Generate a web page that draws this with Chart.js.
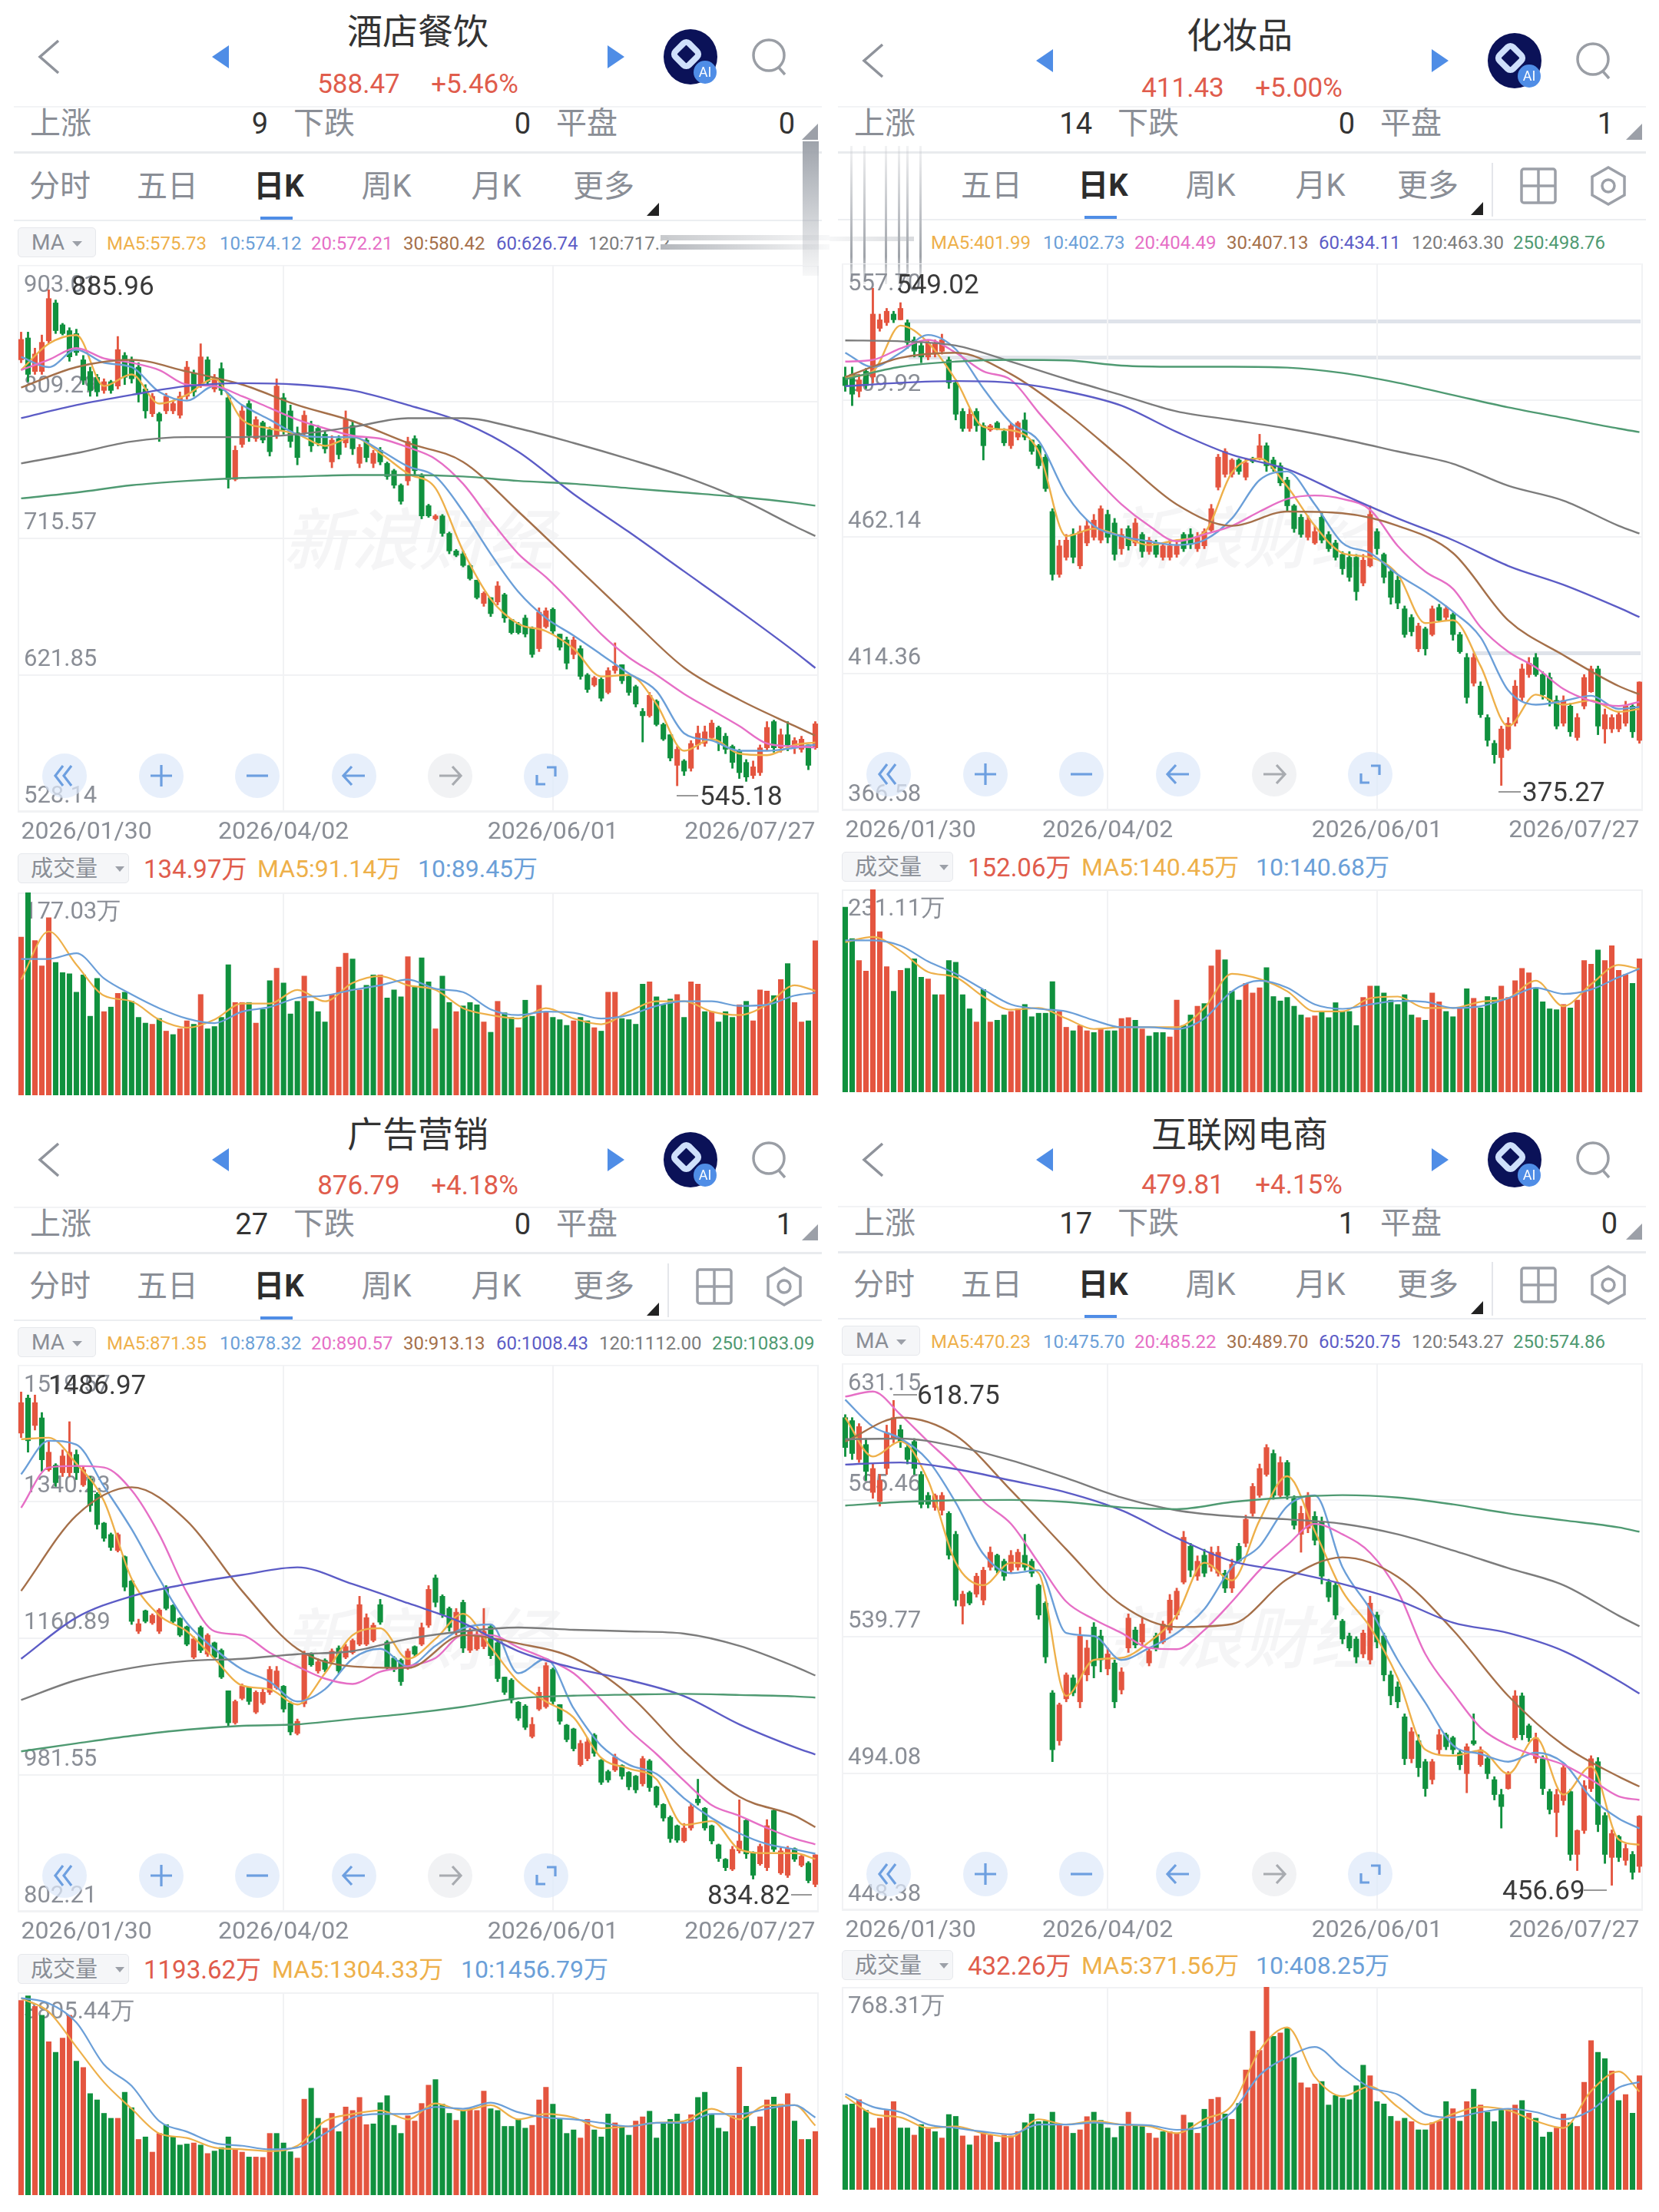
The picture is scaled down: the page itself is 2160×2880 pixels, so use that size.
<!DOCTYPE html>
<html lang="zh"><head><meta charset="utf-8"><title>K线</title>
<script src="https://cdn.jsdelivr.net/npm/chart.js@4"></script>
<style>
html,body{margin:0;padding:0;background:#fff}
#root{position:relative;width:2160px;height:2880px;overflow:hidden;background:#fff;font-family:Roboto,"Noto Sans CJK SC",sans-serif;filter:blur(.6px)}
.t{position:absolute;white-space:nowrap;line-height:1}
canvas{position:absolute}
.b{position:absolute}
</style></head><body><div id="root"></div>
<script>
/* ---------- shared tick labels ---------- */
const tickDates=['2026/01/30','2026/04/02','2026/06/01','2026/07/27'];
const tickDateIndex=[0,38,77,115];

/* ---------- 酒店餐饮 [open,high,low,close] ---------- */
const hotelCandles=[[838,857,836,852],[853,857,823,828],[830,846,828,842],[830,855,828,850],[851,886,849,880],[877,879,856,858],[862,863,855,856],[858,860,837,840],[856,859,841,843],[838,841,821,824],
[830,833,813,817],[826,828,813,816],[817,825,815,823],[823,824,815,817],[820,854,818,845],[841,843,821,826],[838,840,822,825],[833,836,809,815],[818,821,798,803],[801,815,799,813],
[801,802,782,796],[803,815,801,813],[803,810,801,808],[800,816,798,813],[813,837,811,833],[829,831,813,816],[821,849,819,840],[838,840,820,823],[818,828,816,826],[832,836,814,817],
[812,814,750,756],[756,779,755,776],[780,807,778,803],[808,810,782,786],[784,799,782,797],[795,796,781,783],[790,792,772,775],[786,825,784,820],[812,815,787,790],[803,807,778,782],
[788,792,766,771],[788,803,786,800],[793,796,775,779],[791,793,779,781],[787,789,774,777],[768,786,764,783],[784,786,770,773],[781,803,778,797],[793,796,773,777],[767,780,764,778],
[783,785,768,771],[767,776,764,774],[776,778,766,768],[767,768,756,758],[762,763,750,752],[752,753,739,741],[755,785,752,782],[784,786,759,762],[759,760,729,731],[738,739,730,731],
[729,732,728,731],[731,732,717,719],[719,720,705,707],[707,708,703,704],[705,707,696,697],[697,698,687,688],[687,687,674,675],[671,679,669,678],[675,675,662,664],[672,686,670,683],
[677,678,658,661],[660,660,650,651],[657,658,650,651],[661,663,648,650],[654,655,634,636],[640,668,638,665],[655,668,654,666],[667,668,650,652],[650,650,639,641],[646,648,626,630],
[636,648,633,646],[640,642,619,621],[622,623,610,612],[615,621,614,620],[619,620,604,606],[610,627,609,625],[625,644,623,628],[629,629,616,618],[621,622,608,610],[614,615,600,602],
[597,599,576,594],[594,610,593,608],[604,605,587,588],[588,589,577,578],[581,581,563,565],[560,573,546,571],[563,564,553,556],[558,577,556,575],[574,587,571,582],[575,587,573,583],
[579,591,577,589],[586,587,570,576],[580,582,568,571],[573,574,558,562],[570,571,551,555],[562,564,549,552],[553,563,551,559],[555,574,553,572],[572,590,570,586],[590,591,569,572],
[572,585,569,581],[581,590,570,574],[572,579,568,577],[571,580,569,578],[574,574,557,560],[572,590,571,588.47]];
const hotelVolume=[138,177,135,113,155,116,107,106,90,105,69,102,73,77,89,90,82,68,63,62,67,56,53,58,65,62,88,58,60,68,114,81,81,81,63,75,100,111,98,71,82,104,
82,73,64,88,112,124,119,92,96,105,105,85,92,86,121,95,120,99,58,104,81,73,78,81,79,64,55,82,72,68,59,83,69,96,73,68,66,61,65,68,65,59,56,90,90,67,66,62,97,99,86,79,84,88,68,99,97,73,73,64,73,68,79,82,65,92,91,87,101,115,81,64,65,134.97];
const hotelVolDir='rgrrrggggg ggrgrggggr grgrrgrggg grrgrggrgg grgggrrrgr ggrgggrggg rggrgggrgr ggrggrrggg rggrgrrggg grgggrgrrg rgggrgrrrg rgrrgr';
const hotelMa5=[831,849,855,820,828,808,814,825,797,791,787,779,785,774,760,750,707,674,657,652,640,621,622,602,570,578,568,567,574,575.73];
const hotelMa10=[840,833,845,836,833,816,810,820,807,797,787,785,785,776,765,758,734,705,679,661,649,636,623,611,582,577,570,570,572,574.12];
const hotelMa20=[831,838,846,839,836,831,821,820,813,805,797,791,786,784,778,770,753,728,705,689,670,650,634,622,609,598,587,575,573,572.21];
const hotelMa30=[819,833,838,830,821,807,796,781,768,734,698,662,627,605,587,580.42];
const hotelMa60=[798,807,814,820,822,821,817,807,795,775,746,720,693,666,638,626.74];
const hotelMa120=[767,774,782,785,785,787,792,798,798,791,781,770,758,743,724,717.2];
const hotelMa250=[743,747,752,755,757,758,759,759,758,755,753,750,747,744,740,738];
const hotelVolMa5=[101,143,114,87,82,66,59,66,80,80,92,82,98,104,96,92,76,70,67,76,67,62,73,82,82,73,70,79,96,91.14];
const hotelVolMa10=[119,119,124,102,88,76,67,63,73,77,85,87,92,96,101,93,90,75,70,73,72,67,70,78,82,82,78,79,87,89.45];

/* ---------- 化妆品 ---------- */
const cosmeticCandles=[[518,521.5,513,515],[519,521.5,508,512],[513,519,511,517],[520,521,514,515],[518,549.02,516,540],[535,540,534,538],[537,542,536,541],[540,541,537,538],[538,544,538,542],[537,538,528,530],
[531,532,525,527],[529,530,523,525],[525,531,524,530],[526,531,525,530],[527,533,526,531],[524,525,514,516],[516,517,503,505],[506,507,499,500],[500,507,499,505],[506,507,499,501],
[501,502,489,494],[499.5,501.5,499,501],[502,502.5,499.5,500],[499,500,494,495],[494,502,493,501],[497,502.5,496,502],[503,505.5,496,497],[496,496,491,492],[494,494.5,486,487],[490,491,478,479],
[471,472,447,449],[449,461,448,459],[455,463,454,461],[463,465,453,455],[452,466,451,464],[460,468,459,466],[462,470,461,468],[461,473,460,472],[470,471.5,460,462],[467,468.6,454,456],
[458,465,456,463],[465,466,457.5,459],[460,468.6,459,467],[463,463.7,455,457],[457,462,456,461],[460,461,455,456],[455,460,454,459],[455,461,454,459],[456,460.5,455,459],[463,463.7,457,458],
[463,465,458,459.5],[458,463.7,457,462],[459,465,458,464],[464.5,473.5,464,472],[479.5,491,478.5,490],[484,493,483,492],[484,489.5,483,489],[489,489.5,484,485],[483,489.5,482,488],[489.5,490,488,488.5],
[489.5,498,489,494],[494,495,485,487],[489,490,485,486],[487,488,480,481],[482,483,471,473],[473,473.5,463.7,465],[469,470,462,463],[462,469.5,461,468],[460,466,459.5,464],[469,470.5,460,461],
[463,464,457,458],[460,461,454,455],[456,457,449,451],[455,457,446.6,448],[455,456,440,443],[446,456,445,454],[452,473,451.6,470],[464,465,456,458],[456,456.5,446,448],[450,451,438.6,441],
[447,448.5,437,439],[437,438,427,428],[434,435,427.5,429],[423,432,422,431],[430,430.6,420.8,423],[428,438,427.5,437],[437.5,438.6,432.5,433],[434,438,433,437],[435,435.6,426,428],[428,428.8,421.4,422],
[420,421.4,404,406],[411,421.4,410,420],[410,411.5,399,400],[399,400,389,391],[390,391,383,386],[385,396,375.27,395],[388,399,387.5,397],[397,412,396,410],[406,417.7,404.8,416],[414,420,413,418],
[420,421.4,413.4,414],[414,415,405.4,407],[413,414.6,403,405],[405,406.6,395,396],[397,406.6,396,405],[403,404,392.4,394],[392,400.4,391,399],[403,414,402,413],[408,417,407.8,416],[416,417,393,396],
[395,402,390,400],[395,400,393.7,399],[395,401,394,400],[397,404.7,396,403],[403,403.5,392,394],[391,411.5,390,411.43]];
const cosmeticVolume=[211,175,150,138,231,183,143,115,139,141,152,131,129,111,111,150,148,111,95,80,117,80,82,88,92,95,100,86,90,90,126,92,74,70,76,70,68,72,70,70,84,85,82,72,64,68,68,63,105,76,88,98,101,144,162,151,115,105,124,113,119,142,109,104,108,98,88,85,87,92,85,102,92,92,76,108,121,121,113,105,100,111,88,85,82,113,103,92,86,96,118,107,96,109,108,121,108,127,141,136,119,103,95,94,100,96,105,150,146,162,150,167,139,134,124,152.06];
const cosmeticVolDir='ggrrrrrgrg ggrgrggggr grggrrgggg grrgrrgrgg rrgrgggrrg grgrrgggrr rggggggrrg gggggrrggg gggrgrrggr grgggrrrrr ggggrgrrrg rrrrgr';
const cosmeticMa5=[518,520,536,530,517,500.6,499.4,492,462.4,465,462.4,459.3,461,463.7,484.6,489.5,479.7,466,456.5,455,449,432,433,417,396,407,403.5,405,401,401.99];
const cosmeticMa10=[526.5,521.5,526.5,532.7,527.7,514,502,495.7,477,466,462.4,460.6,459.3,461,468.6,482,485,473.5,460,456.5,449,443,436,427,408.5,403.5,404.8,406.6,402,402.73];
const cosmeticMa20=[523.4,524,528,531,526.5,520,517,505.6,494.5,483.4,473.5,466,460.6,463,466,471,475.4,476.6,475.4,471.6,459,450,444,430.6,422,416.5,409,404.8,403,404.49];
const cosmeticMa30=[518,524.7,526.5,519,505.6,489.5,473.5,466,471,470.4,466,456.5,433,420.8,410,407.13];
const cosmeticMa60=[514.8,516,516.6,516,513,508,498.8,490.8,485.8,477,468.6,461,452,445.4,437.4,434.11];
const cosmeticMa120=[530.8,530.5,529,523.4,517.3,511.7,506,503,500,496.3,492,487.7,480,474.8,466,463.3];
const cosmeticMa250=[517.3,521.6,523.4,524,523.8,522,521.6,521.6,521.3,519.4,516,511.7,507.4,503.7,500,498.76];
const cosmeticVolMa5=[171,177,161,137,131,109,94,96,84,72,74,74,74,96,135,129,115,92,92,107,109,96,96,103,107,127,98,123,145,140.45];
const cosmeticVolMa10=[173,173,167,149,135,117,100,95,92,82,74,74,72,84,115,127,119,100,95,100,104,103,96,98,107,119,112,117,131,140.68];

/* ---------- 广告营销 ---------- */
const adCandles=[[1430,1484,1424,1470],[1476,1480,1405,1420],[1440,1480,1434,1470],[1450,1457,1380,1395],[1382,1420,1380,1405],[1388,1390,1360,1365],[1378,1408,1373,1400],[1378,1445,1373,1405],[1402,1408,1369,1378],[1362,1387,1360,1382],
[1370,1373,1327,1335],[1350,1352,1304,1310],[1312,1313,1288,1292],[1297,1299,1276,1280],[1276,1299,1274,1297],[1268,1269,1223,1228],[1236,1237,1179,1183],[1170,1186,1167,1180],[1197,1198,1181,1183],[1181,1193,1179,1191],
[1170,1200,1167,1198],[1228,1230,1198,1200],[1204,1205,1181,1183],[1187,1188,1163,1165],[1176,1177,1151,1153],[1136,1163,1134,1160],[1175,1177,1142,1145],[1140,1167,1137,1165],[1155,1156,1134,1136],[1145,1147,1108,1110],
[1092,1092,1046,1050],[1050,1080,1048,1078],[1082,1101,1080,1098],[1096,1097,1074,1078],[1064,1092,1062,1090],[1076,1094,1074,1090],[1090,1124,1087,1120],[1096,1124,1094,1118],[1098,1099,1064,1068],[1076,1078,1034,1038],
[1036,1055,1034,1052],[1075,1144,1071,1140],[1140,1142,1124,1126],[1118,1134,1115,1130],[1132,1134,1117,1120],[1130,1147,1128,1144],[1148,1151,1115,1118],[1136,1153,1134,1150],[1142,1160,1140,1158],[1153,1216,1151,1205],
[1153,1193,1151,1188],[1158,1181,1156,1178],[1205,1212,1179,1182],[1156,1158,1120,1122],[1135,1137,1117,1120],[1132,1134,1099,1104],[1122,1147,1120,1144],[1150,1151,1137,1140],[1153,1181,1151,1175],[1178,1230,1175,1225],
[1240,1244,1202,1208],[1216,1218,1188,1192],[1200,1202,1170,1175],[1168,1200,1165,1195],[1208,1211,1142,1148],[1145,1174,1142,1170],[1147,1170,1145,1166],[1150,1200,1147,1170],[1176,1179,1134,1138],[1155,1160,1104,1108],
[1110,1110,1087,1090],[1106,1108,1076,1080],[1077,1078,1053,1056],[1072,1074,1041,1044],[1032,1057,1030,1048],[1068,1097,1066,1090],[1071,1129,1069,1125],[1120,1122,1074,1078],[1074,1074,1048,1052],[1047,1048,1025,1028],
[1042,1043,1013,1016],[995,1027,993,1023],[1003,1030,1000,1025],[1034,1036,1006,1010],[1001,1002,969,972],[986,988,972,975],[988,1009,986,1005],[994,995,976,980],[985,986,962,966],[980,981,958,962],
[970,1006,967,1003],[1000,1002,960,965],[966,967,939,942],[943,944,921,925],[926,928,893,898],[915,916,893,896],[895,918,893,912],[912,944,909,940],[950,976,942,945],[938,939,909,912],
[915,916,891,895],[890,891,868,872],[871,872,856,860],[858,888,856,884],[882,949,879,895],[922,923,872,878],[880,881,845,850],[865,891,863,888],[860,923,856,915],[935,937,881,884],
[853,886,851,882],[850,888,847,885],[885,886,868,871],[863,877,861,875],[866,868,840,843],[838,877,834.82,876.79]];
const adVolume=[3652,3738,3540,3375,2878,2680,2945,3375,2514,2395,1906,1787,1535,1442,1442,1932,1641,1045,1092,807,1158,1323,1092,940,959,979,940,781,827,893,1092,860,807,715,715,708,1158,1158,979,814,695,1800,2005,1442,1257,1535,1191,1654,1588,1833,1323,1337,1734,1866,1310,1158,1489,1390,1720,2064,2170,1707,1535,1403,1588,1621,1588,1952,1621,1588,1290,1290,1423,1257,1310,1787,2025,1707,1423,1158,1224,1072,1423,1224,1092,1522,1356,1290,1125,1390,1469,1575,1072,1356,1423,1522,1356,1509,1833,1932,1522,1257,1191,1489,2402,1667,1290,1469,1787,1840,1707,1906,1390,1045,1045,1193.62];
const adVolDir='rgrgrgrrgr ggggrggrgr rggggrgrgg grrgrrrggg rrggrrgrrr rgggggrrrr gggrgrrrgg ggggrrrggg grrgggrggr rgggggrrgg gggrrggrrg rrgrgr';
const adMa5=[1422,1424,1390,1341,1239,1191,1170,1134,1099,1094,1074,1115,1165,1174,1134,1160,1193,1149,1104,1078,1057,1004,990,976,916,921,884,879,879,871.35];
const adMa10=[1376,1420,1415,1360,1304,1239,1181,1147,1120,1104,1078,1094,1134,1147,1124,1151,1174,1179,1115,1134,1069,1020,995,983,951,925,905,891,884,878.32];
const adMa20=[1332,1385,1387,1385,1355,1297,1221,1170,1165,1142,1124,1108,1101,1117,1124,1135,1165,1165,1149,1134,1115,1080,1041,1009,974,942,928,912,898,890.57];
const adMa30=[1223,1322,1359,1315,1223,1147,1124,1122,1165,1154,1135,1087,1013,953,928,913.13];
const adMa60=[1134,1188,1216,1232,1244,1254,1232,1207,1181,1144,1122,1106,1085,1048,1018,1008.43];
const adMa120=[1080,1106,1122,1131,1134,1140,1144,1160,1170,1175,1172,1170,1167,1151,1124,1112];
const adMa250=[1012.5,1023,1033,1041,1046,1048,1055,1062,1071,1082,1085.6,1087,1088,1086.5,1084.7,1083.09];
const adVolMa5=[3692,3440,2780,2117,1621,1158,1072,893,860,827,926,1390,1522,1588,1423,1720,1588,1687,1423,1522,1456,1257,1290,1356,1390,1621,1423,1687,1687,1304.33];
const adVolMa10=[3700,3600,3240,2450,2050,1390,1191,979,926,860,893,1158,1456,1522,1522,1654,1621,1734,1555,1456,1423,1356,1290,1356,1356,1522,1522,1621,1687,1456.79];

/* ---------- 互联网电商 ---------- */
const ecomCandles=[[613,614,600,603],[612,613,599,601],[599,611,598,610],[604,606,592,595],[588,597.5,586,596],[585,594,583.4,592],[596,610.5,594,608],[606,618.75,604.6,613],[609,610.5,603,605],[603,604.6,597.5,599],
[605,606,594,596],[594,595,582.8,584],[587,588,582.8,584],[583,587.5,582,587],[582,588,580.4,587],[581,581.6,565.7,567],[574,575,550,552],[550,555,544,554],[554.5,555,550.4,551],[554,561,553,560],
[552,563,550.4,562],[563,569.8,562,568],[567,567.4,561,562],[565,565.7,558.6,560],[562,568.6,561,567],[563,569,562,568],[567,574,562,563],[565,565.7,559.8,561],[557,557.4,545.6,547],[551,551.5,531,533],
[521,521.8,498,502],[505,517.6,503.5,517],[519,527.7,518,527],[526,527,520,521],[518,543,516,540],[527,538.6,525,536],[543,544.5,526,530],[540,542,528,532],[529,536,527,534],[531,532,516,518],
[522,529.4,520.6,528],[536,547.4,534.5,546],[542,543,536,537],[538,546,536.8,544],[531,536,530,535],[540,541,535,536],[538,545,537.4,544],[542,553.9,541,552],[547,556,545.6,555],[558,575,557.4,573],
[570,571,559.8,562],[560,566.8,558.6,565],[567,569,559.8,561],[563,569.8,561.6,568],[561,570,560,568],[561,562,554.5,556],[556,565.7,554.5,564],[570,571,564.5,565],[571,580.4,569.8,579],[581,591,580,590],
[587,597.5,586.3,596],[594,604,593.4,603],[601,602.2,585.7,587],[587,599.9,586.3,598],[598,598.7,585.7,587],[586,586.9,575.7,577],[574,583.4,568,581],[576,588,574.5,587],[580,581.6,570.4,572],[578,579.8,557.4,560],
[558,559,551.5,553],[557,558,545.6,547],[545,545.6,537.4,539],[540,541,535,536],[539,539.8,531,533],[534,542,532.7,541],[532,553.3,530.6,551],[547,548,536,538],[540,541,525,527],[527,528.3,517,520],
[523,524.7,516,518],[513,514,497,499],[499,509.4,497.6,508],[505,507,493,496],[498,498.8,486.4,489],[492,498.8,490.5,498],[502,508.8,500.6,507],[507,507.6,502,503],[506,506.5,500.6,502],[501,502,495.3,497],
[494,504,487.6,503],[505,514,503.5,504],[497,503,496.4,502],[499,500,492.3,494],[492,493,485.2,487],[487,488.8,475.8,483],[489,494.7,488.8,494],[506,521.8,505.3,520],[520,521,505.3,507],[510,510.6,504.7,506],
[499,507.6,497.6,506],[499,500,487,489],[488,488.8,480.5,482],[481,488.8,472.9,487],[485,497,483.5,496],[488,488.8,465,467],[467,475.2,461.6,475],[475,491.7,474,490],[489,500,488,499],[498,499.4,474.6,477],
[480,481,464,467],[466,475.2,456.69,474],[473,473.4,464.6,466],[465,470.5,463.4,469],[467,468,458.7,461],[463,480,461,479.81]];
const ecomVolume=[321,325,341,301,234,271,301,334,234,234,207,247,231,220,196,285,278,204,170,204,218,207,180,207,204,220,254,287,258,260,294,247,240,214,227,277,294,263,234,198,240,294,244,240,214,196,220,220,214,283,254,214,305,343,350,287,267,327,454,601,528,768,581,594,611,501,405,387,401,410,321,357,347,341,394,472,432,334,325,278,260,271,258,227,227,254,260,334,307,260,334,381,321,294,258,301,307,321,338,290,271,200,218,234,287,254,240,407,565,521,497,450,338,361,290,432.26];
const ecomVolDir='ggrgrrrrgg rgrgrggrgr rrgrrrgggg grrgrrgggg grggrrgrrr grgrrgrgrr rrgrggrrrg ggggggrggg rgrggrrgrg rgrgggrrgr gggrrgrrrg grgrgr';
const ecomMa5=[613,600,605,592,564.5,557,564.5,561,520,532,532.7,538,547,564.5,558.6,578.7,593.4,575,555,543,526,502,500,501.7,494,506,487,496.4,472,470.23];
const ecomMa10=[619,610,606,598.7,584.6,567.4,561,562,541,540,532,536,541,549,563,570,583.4,587,563,549,532,517.7,503.5,500.6,498,501,497.6,486,479,475.7];
const ecomMa20=[620,621.7,614,605,596.3,585,577.5,564.5,551.5,545.6,541,536,535.6,542,551.5,562,570.4,577.5,574,567.8,555,534,521,509.4,503.5,500,497,492,486.4,485.22];
const ecomMa30=[605,613,607,588.7,569,550.4,543,544,559,566.3,559.8,542,520,503.5,493,489.7];
const ecomMa60=[597.3,598,595.8,592,588,582,572.8,565,561.6,557.4,552,544.5,541,535,525,520.75];
const ecomMa120=[605.8,606,603.4,598.7,592.8,586.3,582,580,579,577.5,574,568.6,562.7,557,546.8,543.27];
const ecomMa250=[583.6,584.8,585.4,585.5,584.8,583,582.4,584.8,586.3,587.1,586.3,584,581,578.7,576.3,574.86];
const ecomVolMa5=[354,287,274,234,240,214,200,267,247,260,247,240,214,267,320,528,615,428,354,391,314,247,287,314,301,260,234,374,448,371.56];
const ecomVolMa10=[363,314,294,247,234,220,210,247,247,254,247,244,227,240,294,434,501,541,461,387,361,287,274,294,307,294,267,301,387,408.25];

/* ---------- tick values and captions ---------- */
const hotelTicks=[528.14,621.85,715.57,809.29,903.01];
const cosmeticTicks=[366.58,414.36,462.14,509.92,557.70];
const adTicks=[802.21,981.55,1160.89,1340.23,1519.57];
const ecomTicks=[448.38,494.08,539.77,585.46,631.15];
const hotelVolMax=177.03, cosmeticVolMax=231.11, adVolMax=3805.44, ecomVolMax=768.31;
const tabNames=['分时','五日','日K','周K','月K','更多'];

const RED='#e4553f',GREEN='#10913e',GRAY='#8a8e96';
const C5='#eeb04a',C10='#6b9fd8',C20='#e66fc6',C30='#a5704a',C60='#5c5cc6',C120='#7c7c7c',C250='#4f9a72';
const N=hotelCandles.length;
const root=document.getElementById('root');
let svgUpper='';

function txt(s,x,y,size,color,anchor,extra){
  const d=document.createElement('div');d.className='t';d.textContent=s;
  const tx=anchor==='c'?'-50%':anchor==='r'?'-100%':'0';
  d.style.cssText=`left:${x}px;top:${y}px;font-size:${size}px;color:${color};transform:translate(${tx},-50%);${extra||''}`;
  root.appendChild(d);return d;
}
function box(x,y,w,h,css){const d=document.createElement('div');d.className='b';d.style.cssText=`left:${x}px;top:${y}px;width:${w}px;height:${h}px;${css}`;root.appendChild(d);return d;}
/* knots read every `step` bars, the last one at the final bar; the rest stay empty */
function knots(a,step){const o=new Array(N).fill(null);a.forEach((v,k)=>{o[k===a.length-1?N-1:k*step]=v;});return o;}
function line(a,step,color,w){return{type:'line',data:knots(a,step),borderColor:color,borderWidth:w||2.4,pointRadius:0,spanGaps:true,cubicInterpolationMode:'monotone',order:0,clip:false};}

function header(p){
  const x=p.dx,a=p.dyTitle,b=p.dyPrice,r=p.dyRow,m=p.dyMid;
  txt(p.title,x+p.titleX,41+a,46,'#333','c');
  txt(p.price,x+467,109+b,35,'#e05c4c','c');
  txt(p.pct,x+618,109+b,35,'#e05c4c','c');
  svgUpper+=`<path d="M${x+76} ${53+a}L${x+52} ${74+a}L${x+76} ${95+a}" fill="none" stroke="#8f939b" stroke-width="3.5"/>`;
  svgUpper+=`<path d="M${x+276} ${74+a}L${x+298} ${59+a}V${89+a}Z" fill="#4f8de6"/><path d="M${x+813} ${74+a}L${x+791} ${59+a}V${89+a}Z" fill="#4f8de6"/>`;
  svgUpper+=`<ellipse cx="${x+899}" cy="${74+a}" rx="35" ry="36" fill="#0b1258"/><rect x="${x+881}" y="${58+a}" width="25" height="25" rx="5" transform="rotate(45 ${x+893.5} ${70.5+a})" fill="#0b1258" stroke="#cfe0fb" stroke-width="8"/><circle cx="${x+918}" cy="${94+a}" r="15" fill="#4f8de6"/>`;
  txt('AI',x+918,94+a,18,'#fff','c');
  svgUpper+=`<circle cx="${x+1001}" cy="${72+a}" r="20" fill="none" stroke="#9a9ea5" stroke-width="3.5"/><path d="M${x+1014} ${88+a}L${x+1022} ${97+a}" stroke="#9a9ea5" stroke-width="3.5"/>`;
  box(x+18,138+r,1052,2,'background:#f2f3f5');
  txt('上涨',x+39,161+r,40,GRAY,'l');
  txt(p.up,x+349,161+r,38,'#333','r');
  txt('下跌',x+382,161+r,40,GRAY,'l');
  txt(p.down,x+691,161+r,38,'#333','r');
  txt('平盘',x+724,161+r,40,GRAY,'l');
  txt(p.flat,x+p.flatX,161+r,38,'#333','r');
  svgUpper+=`<path d="M${x+1065} ${161+r}V${182+r}H${x+1044}Z" fill="#9ca0a8"/>`;
  box(x+18,197+r,1052,3,'background:#e9ebee');
  const tx=[78,218,363,503,646,786];
  tabNames.forEach((n,i)=>{ if(i===0&&p.noFirstTab)return;
    txt(n,x+tx[i],243+m,40,i===2?'#2c2c2c':GRAY,'c',i===2?'font-weight:700;':'');});
  box(x+339,282+m,42,5,'background:#4f8de6');
  svgUpper+=`<path d="M${x+858} ${264+m}V${281+m}H${x+842}Z" fill="#222"/>`;
  box(x+18,286+m,1052,2,'background:#eceef1');
  if(p.tools){
    box(x+869,213+m,2,70,'background:#e4e6ea');
    svgUpper+=`<rect x="${x+908}" y="${221+m}" width="44" height="44" rx="3" fill="none" stroke="#9ca0a8" stroke-width="3.5"/><path d="M${x+930} ${221+m}V${265+m}M${x+908} ${243+m}H${x+952}" stroke="#9ca0a8" stroke-width="3.5"/>`;
    svgUpper+=`<path d="M${x+1021} ${219+m}L${x+1042} ${231+m}V${255+m}L${x+1021} ${267+m}L${x+1000} ${255+m}V${231+m}Z" fill="none" stroke="#9ca0a8" stroke-width="3.5"/><circle cx="${x+1021}" cy="${243+m}" r="8" fill="none" stroke="#9ca0a8" stroke-width="3.5"/>`;
  }
  if(p.maBtn!==false){
    box(x+23,296+m,102,39,'background:#f5f6f8;border:1px solid #e6e8ec;border-radius:5px;box-sizing:border-box');
    txt('MA',x+41,316+m,28,GRAY,'l');
    svgUpper+=`<path d="M${x+94} ${314+m}h13l-6.5 7z" fill="#9ca0a8"/>`;
  }
  const cols=[C5,C10,C20,C30,C60,C120,C250];
  p.maText.forEach((s,i)=>txt(s,x+p.maX[i],317+m,24,cols[i],'l'));
}

function panel(p){
  header(p);
  const x=p.dx+23,W=1043;
  box(x,p.plotTop,W,712,'border:2px solid #f1f2f4;box-sizing:border-box;border-top-color:#f6f7f8');
  txt('新浪财经',x+522,p.plotTop+360,88,'rgba(110,115,125,.07)','c','font-style:italic;font-weight:500;');
  if(p.extra)p.extra();
  /* price chart */
  const c=document.createElement('canvas');c.width=W;c.height=712+50;c.style.left=x+'px';c.style.top=p.plotTop+'px';root.appendChild(c);
  const labels=new Array(N).fill('');tickDateIndex.forEach((k,i)=>labels[k]=tickDates[i]);
  const yTicks=p.ticks,lo=yTicks[0],hi=yTicks[yTicks.length-1];
  const col=p.candles.map(k=>k[3]>=k[0]?RED:GREEN);
  new Chart(c,{type:'bar',data:{labels,datasets:[
    line(p.ma250,8,C250),line(p.ma120,8,C120),line(p.ma60,8,C60),line(p.ma30,8,C30),line(p.ma20,4,C20),line(p.ma10,4,C10),line(p.ma5,4,C5),
    {data:p.candles.map(k=>[k[0],k[3]]),backgroundColor:col,barThickness:6.5,order:1},
    {data:p.candles.map(k=>[k[2],k[1]]),backgroundColor:col,barThickness:2.2,order:2}
  ]},options:chartOpts(lo,hi,yTicks,v=>v.toFixed(2),-20,true,labels)});
  /* volume chart */
  const vc=document.createElement('canvas');vc.width=W;vc.height=264+2;vc.style.left=x+'px';vc.style.top=p.volTop+'px';
  box(x,p.volTop,W,264,'border:2px solid #f1f2f4;border-bottom:0;box-sizing:border-box');
  root.appendChild(vc);
  const dir=p.volDir.replace(/ /g,'');
  new Chart(vc,{type:'bar',data:{labels,datasets:[
    line(p.volMa10,4,C10,2.2),line(p.volMa5,4,C5,2.2),
    {data:p.vol,backgroundColor:p.vol.map((v,i)=>dir[i]==='r'?RED:GREEN),barThickness:6.4,order:1}
  ]},options:chartOpts(0,p.volMax,[p.volMax],v=>v.toFixed(2)+'万',26,false,labels)});
  /* buttons */
  const by=p.plotTop+712-47,bx=[84,210,335,461,586,711];
  bx.forEach((b,i)=>{const cx=p.dx+b;
    svgUpper+=`<ellipse cx="${cx}" cy="${by}" rx="29" ry="29" fill="${i===4?'rgba(238,239,241,.8)':'rgba(222,233,250,.72)'}"/>`;
    const s=i===4?'#a8abb0':'#6d9fe0',st=`fill="none" stroke="${s}" stroke-width="3.2"`;
    if(i===0)svgUpper+=`<path d="M${cx-2} ${by-13}L${cx-12} ${by}L${cx-2} ${by+13}M${cx+9} ${by-13}L${cx-1} ${by}L${cx+9} ${by+13}" ${st}/>`;
    if(i===1)svgUpper+=`<path d="M${cx-14} ${by}H${cx+14}M${cx} ${by-14}V${by+14}" ${st}/>`;
    if(i===2)svgUpper+=`<path d="M${cx-14} ${by}H${cx+14}" ${st}/>`;
    if(i===3)svgUpper+=`<path d="M${cx+14} ${by}H${cx-14}M${cx-3} ${by-12}L${cx-14} ${by}L${cx-3} ${by+12}" ${st}/>`;
    if(i===4)svgUpper+=`<path d="M${cx-14} ${by}H${cx+14}M${cx+3} ${by-12}L${cx+14} ${by}L${cx+3} ${by+12}" ${st}/>`;
    if(i===5)svgUpper+=`<path d="M${cx+1} ${by-11}H${cx+12}V${by+1}M${cx-1} ${by+11}H${cx-12}V${by-1}" ${st}/>`;
  });
  /* high and low captions */
  txt(p.high.s,p.high.x,p.high.y,35,'#3a3a3a','l');
  txt(p.low.s,p.low.x,p.low.y,35,'#3a3a3a','l');
  if(p.high.l)svgUpper+=`<path d="M${p.high.l[0]} ${p.high.y}H${p.high.l[1]}" stroke="#999" stroke-width="2"/>`;
  svgUpper+=`<path d="M${p.low.l[0]} ${p.low.y}H${p.low.l[1]}" stroke="#999" stroke-width="2"/>`;
  /* volume legend */
  const vy=p.plotTop+712+p.volBtn;
  box(x,vy-20,145,39,'background:#f5f6f8;border:1px solid #e6e8ec;border-radius:5px;box-sizing:border-box');
  txt('成交量',x+17,vy,29,GRAY,'l');
  svgUpper+=`<path d="M${x+127} ${vy-3}h12l-6 7z" fill="#9ca0a8"/>`;
  txt(p.volText[0],p.dx+187,vy,33,'#e05c4c','l');
  txt(p.volText[1],p.dx+p.volX[0],vy,32,C5,'l');
  txt(p.volText[2],p.dx+p.volX[1],vy,32,C10,'l');
}
function noPad(s){s.paddingTop=0;s.paddingBottom=0;s.paddingLeft=0;s.paddingRight=0;}
function chartOpts(lo,hi,ticks,fmt,off,withDates,labels){
  return{responsive:false,animation:false,devicePixelRatio:1,layout:{padding:0},
   datasets:{bar:{grouped:false,borderWidth:0,borderSkipped:false}},
   plugins:{legend:{display:false},tooltip:{enabled:false}},
   scales:{
    x:{type:'category',offset:true,
       grid:{display:true,offset:false,drawTicks:false,color:c=>(c.index===1||c.index===2)?'#f1f2f4':'rgba(0,0,0,0)',lineWidth:2},
       border:{display:false},
       afterBuildTicks:s=>{s.ticks=tickDateIndex.map(v=>({value:v}));},
       afterFit:s=>{s.height=withDates?50:2;noPad(s);},
       ticks:{display:withDates,autoSkip:false,maxRotation:0,minRotation:0,align:'inner',padding:8,color:GRAY,font:{family:'Roboto',size:32},callback:v=>labels[v]}},
    y:{position:'left',min:lo,max:hi,
       grid:{display:withDates,drawTicks:false,color:'#f1f2f4',lineWidth:2},border:{display:false},
       afterBuildTicks:s=>{s.ticks=ticks.map(v=>({value:v}));},
       afterFit:s=>{s.width=0;noPad(s);},
       ticks:{mirror:true,autoSkip:false,padding:8,labelOffset:off,color:GRAY,font:{family:'Roboto',size:31},callback:(v,i)=>(withDates&&i===ticks.length-1)?'':fmt(v)}},
    yTop:{position:'left',min:lo,max:hi,display:withDates,
       grid:{display:false,drawTicks:false},border:{display:false},
       afterBuildTicks:s=>{s.ticks=[{value:hi}];},
       afterFit:s=>{s.width=0;noPad(s);},
       ticks:{mirror:true,autoSkip:false,padding:8,labelOffset:27,color:GRAY,font:{family:'Roboto',size:31},callback:v=>fmt(v)}}
   }};
}

/* ---------- the four screens ---------- */
panel({title:'酒店餐饮',titleX:544,price:'588.47',pct:'+5.46%',up:'9',down:'0',flat:'0',flatX:1035,dx:0,dyTitle:0,dyPrice:0,dyRow:0,dyMid:0,tools:false,
 maText:['MA5:575.73','10:574.12','20:572.21','30:580.42','60:626.74','120:717.2'],maX:[139,286,405,525,646,766],
 plotTop:345,volTop:1162,volBtn:74,ticks:hotelTicks,candles:hotelCandles,vol:hotelVolume,volDir:hotelVolDir,volMax:hotelVolMax,
 ma5:hotelMa5,ma10:hotelMa10,ma20:hotelMa20,ma30:hotelMa30,ma60:hotelMa60,ma120:hotelMa120,ma250:hotelMa250,volMa5:hotelVolMa5,volMa10:hotelVolMa10,
 high:{s:'885.96',x:93,y:372},low:{s:'545.18',x:911,y:1036,l:[881,909]},volText:['134.97万','MA5:91.14万','10:89.45万'],volX:[335,544],
 extra(){box(860,306,220,7,'background:linear-gradient(90deg,#c8cacd,rgba(230,232,235,.3))');box(860,318,220,7,'background:linear-gradient(90deg,#b4b7bc,rgba(230,232,235,.25))');
   box(1045,184,21,175,'background:linear-gradient(180deg,#9ea3ab,rgba(200,203,208,.15))');}});

panel({title:'化妆品',titleX:541,price:'411.43',pct:'+5.00%',up:'14',down:'0',flat:'1',flatX:1028,dx:1073,dyTitle:5,dyPrice:5,dyRow:0,dyMid:-1,tools:true,noFirstTab:true,maBtn:false,
 maText:['MA5:401.99','10:402.73','20:404.49','30:407.13','60:434.11','120:463.30','250:498.76'],maX:[139,285,404,524,644,765,897],
 plotTop:343,volTop:1158,volBtn:74,ticks:cosmeticTicks,candles:cosmeticCandles,vol:cosmeticVolume,volDir:cosmeticVolDir,volMax:cosmeticVolMax,
 ma5:cosmeticMa5,ma10:cosmeticMa10,ma20:cosmeticMa20,ma30:cosmeticMa30,ma60:cosmeticMa60,ma120:cosmeticMa120,ma250:cosmeticMa250,volMa5:cosmeticVolMa5,volMa10:cosmeticVolMa10,
 high:{s:'549.02',x:1167,y:370},low:{s:'375.27',x:1982,y:1031,l:[1951,1980]},volText:['152.06万','MA5:140.45万','10:140.68万'],volX:[335,562],
 extra(){box(1183,416,953,5,'background:#dfe3ea');box(1183,463,953,5,'background:#e2e5eb');box(1917,848,219,5,'background:#dfe3ea');
   box(1080,308,110,6,'background:linear-gradient(90deg,rgba(225,227,230,.3),#d9dbde)');
   [1107,1124,1152,1169,1180,1197].forEach(v=>box(v,190,3,180,'background:linear-gradient(180deg,rgba(190,193,198,.2),#b9bcc1 55%,#9fa3a9 80%,rgba(190,193,198,.3))'));}});

panel({title:'广告营销',titleX:544,price:'876.79',pct:'+4.18%',up:'27',down:'0',flat:'1',flatX:1032,dx:0,dyTitle:1436,dyPrice:1434,dyRow:1433,dyMid:1432,tools:true,
 maText:['MA5:871.35','10:878.32','20:890.57','30:913.13','60:1008.43','120:1112.00','250:1083.09'],maX:[139,286,405,525,646,780,927],
 plotTop:1777,volTop:2594,volBtn:75,ticks:adTicks,candles:adCandles,vol:adVolume,volDir:adVolDir,volMax:adVolMax,
 ma5:adMa5,ma10:adMa10,ma20:adMa20,ma30:adMa30,ma60:adMa60,ma120:adMa120,ma250:adMa250,volMa5:adVolMa5,volMa10:adVolMa10,
 high:{s:'1486.97',x:63,y:1803},low:{s:'834.82',x:921,y:2467,l:[1030,1057]},volText:['1193.62万','MA5:1304.33万','10:1456.79万'],volX:[354,600]});

panel({title:'互联网电商',titleX:541,price:'479.81',pct:'+4.15%',up:'17',down:'1',flat:'0',flatX:1033,dx:1073,dyTitle:1436,dyPrice:1433,dyRow:1432,dyMid:1430,tools:true,
 maText:['MA5:470.23','10:475.70','20:485.22','30:489.70','60:520.75','120:543.27','250:574.86'],maX:[139,285,404,524,644,765,897],
 plotTop:1775,volTop:2587,volBtn:72,ticks:ecomTicks,candles:ecomCandles,vol:ecomVolume,volDir:ecomVolDir,volMax:ecomVolMax,
 ma5:ecomMa5,ma10:ecomMa10,ma20:ecomMa20,ma30:ecomMa30,ma60:ecomMa60,ma120:ecomMa120,ma250:ecomMa250,volMa5:ecomVolMa5,volMa10:ecomVolMa10,
 high:{s:'618.75',x:1194,y:1816,l:[1163,1194]},low:{s:'456.69',x:1956,y:2461,l:[2062,2092]},volText:['432.26万','MA5:371.56万','10:408.25万'],volX:[335,562]});

const sv=document.createElementNS('http://www.w3.org/2000/svg','svg');
sv.setAttribute('width','2160');sv.setAttribute('height','2880');sv.style.cssText='position:absolute;left:0;top:0;pointer-events:none';
sv.innerHTML=svgUpper;root.appendChild(sv);
/* AI labels sit above the badge layer */
[...root.querySelectorAll('.t')].filter(d=>d.textContent==='AI').forEach(d=>{d.style.zIndex=5;});
</script></body></html>
